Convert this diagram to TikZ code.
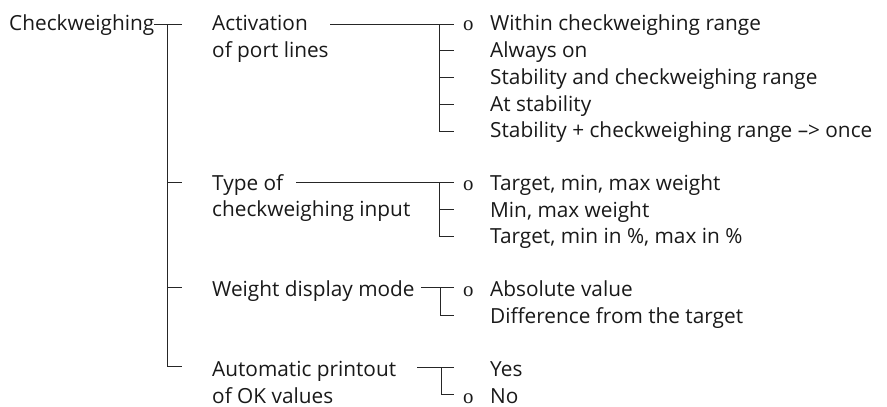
\documentclass[tikz,border=0pt]{standalone}
\usepackage{fontspec}
\setmainfont{Open Sans}
\newfontfamily\optfont{Liberation Serif}
\usetikzlibrary{calc}
\tikzset{menu text/.style={anchor=base west, inner sep=0pt, align=left, text=black!90, font=\fontsize{20.8}{26.7}\selectfont}}
\tikzset{menu mark/.style={anchor=base west, inner sep=0pt, text=black!90, font=\optfont\fontsize{20.8}{26.7}\selectfont}}
\tikzset{tree line/.style={draw=black!85, line width=0.8pt}}

\begin{document}
\begin{tikzpicture}[x=1pt,y=-1pt]
	\useasboundingbox (0,0) rectangle (887,407);

	% two-line labels sit on the baseline of their last line
	\node[menu text] (root) at (9,30.7) {Checkweighing};
	\node[menu text] (act) at (212,57.3) {Activation\\of port lines};
	\node[menu text] (typ) at (212,216.7) {Type of\\checkweighing input};
	\node[menu text] (dsp) at (212,296.7) {Weight display mode};
	\node[menu text] (prt) at (212,403.3) {Automatic printout\\of OK values};

	% first level
	\coordinate (trunk) at (167,24);
	\draw[tree line] (root.base east |- trunk) -- (182,24);
	\draw[tree line] (trunk) |- (182,366);
	\foreach \y in {182.7,287.5} \draw[tree line] (167,\y) -- ++(15,0);

	% activation of port lines
	\node[menu text] (act1) at (490,30.7) {Within checkweighing range};
	\node[menu text] (act2) at (490,57.3) {Always on};
	\node[menu text] (act3) at (490,84) {Stability and checkweighing range};
	\node[menu text] (act4) at (490,111) {At stability};
	\node[menu text] (act5) at (490,137.3) {Stability + checkweighing range \textendash> once};
	\node[menu mark] (actset) at (463,30.7) {o};
	\coordinate (actT) at (439,24);
	\draw[tree line] (330,24) -- (454,24);
	\draw[tree line] (actT) |- (454,131);
	\foreach \y in {50.5,77,104} \draw[tree line] (439,\y) -- ++(15,0);

	% type of checkweighing input
	\node[menu text] (typ1) at (490,190) {Target, min, max weight};
	\node[menu text] (typ2) at (490,217) {Min, max weight};
	\node[menu text] (typ3) at (490,243.3) {Target, min in \%, max in \%};
	\node[menu mark] (typset) at (463,190) {o};
	\coordinate (typT) at (439,182.5);
	\draw[tree line] (296,182.5) -- (454,182.5);
	\draw[tree line] (typT) |- (454,236);
	\draw[tree line] (439,209) -- ++(15,0);

	% weight display mode
	\node[menu text] (dsp1) at (490,296.7) {Absolute value};
	\node[menu text] (dsp2) at (490,323.3) {Difference from the target};
	\node[menu mark] (dspset) at (463,296.7) {o};
	\coordinate (dspT) at (440,287.5);
	\draw[tree line] ($(dsp.east |- dspT)+(6,0)$) -- (454,287.5);
	\draw[tree line] (dspT) |- (454,315);

	% automatic printout of OK values
	\node[menu text] (prt1) at (490,376.7) {Yes};
	\node[menu text] (prt2) at (490,403.3) {No};
	\node[menu mark] (prtset) at (463,403.3) {o};
	\coordinate (prtT) at (441,367);
	\draw[tree line] (417,367) -- (454,367);
	\draw[tree line] (prtT) |- (454,394);
\end{tikzpicture}
\end{document}
